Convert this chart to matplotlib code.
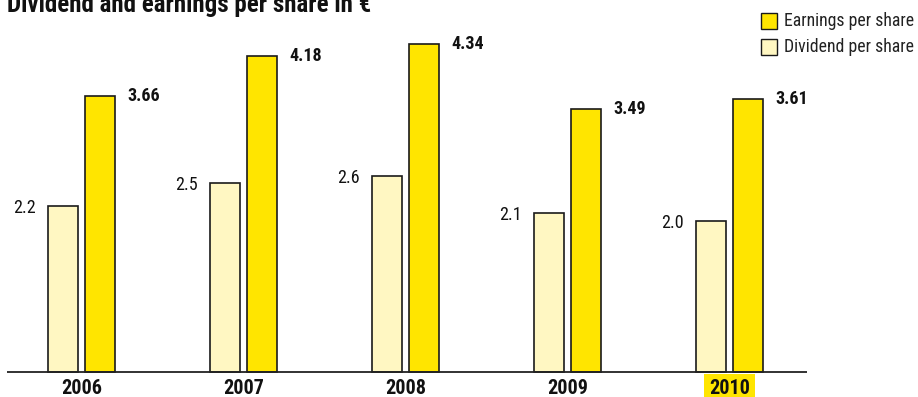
import matplotlib
matplotlib.use("Agg")
import matplotlib.pyplot as plt
from matplotlib.patches import Rectangle

plt.rcParams['font.family'] = ['Roboto Condensed', 'Liberation Sans Narrow',
                               'IBM Plex Sans Condensed', 'DejaVu Sans']

# Werte je Jahr
jahre = ['2006', '2007', '2008', '2009', '2010']
dividende = [2.2, 2.5, 2.6, 2.1, 2.0]
ergebnis = [3.66, 4.18, 4.34, 3.49, 3.61]
dividende_txt = ['2.2', '2.5', '2.6', '2.1', '2.0']
ergebnis_txt = ['3.66', '4.18', '4.34', '3.49', '3.61']

GELB = '#FFE500'
HELLGELB = '#FFF7C2'

W, H = 918, 397
fig = plt.figure(figsize=(W / 100, H / 100), dpi=100)
ax = fig.add_axes([0, 0, 1, 1])

# Pixelraster: Gruppenabstand 162 px, 75.5 px pro Euro, Nulllinie bei 372 px
ax.set_xlim(-81.5 / 162, (W - 81.5) / 162)
ax.set_ylim(-25 / 75.5, (H - 25) / 75.5)
ax.axis('off')

x = range(len(jahre))
breite = 0.185
versatz = 0.114

for i in x:
    ax.bar(i - versatz, dividende[i], breite, color=HELLGELB,
           edgecolor='#1a1a1a', linewidth=1.2, zorder=2)
    ax.bar(i + versatz, ergebnis[i], breite, color=GELB,
           edgecolor='#1a1a1a', linewidth=1.2, zorder=2)
    ax.annotate(dividende_txt[i], (i - versatz - breite / 2, dividende[i]),
                xytext=(-12, -2), textcoords='offset pixels',
                ha='right', va='center', fontsize=13, color='#111111')
    ax.annotate(ergebnis_txt[i], (i + versatz + breite / 2, ergebnis[i]),
                xytext=(12, 0), textcoords='offset pixels',
                ha='left', va='center', fontsize=13, fontweight='bold',
                color='#111111')
    box = None
    if jahre[i] == '2010':
        box = dict(boxstyle='square,pad=0.25', facecolor=GELB, edgecolor='none')
    ax.annotate(jahre[i], (i, 0), xytext=(0, -22), textcoords='offset pixels',
                ha='center', va='baseline', fontsize=14.5, fontweight='bold',
                color='#111111', bbox=box, zorder=1)

# Grundlinie
ax.hlines(0, -0.46, 4.478, color='#222222', linewidth=1.3, zorder=3)

# Titel
fig.text(7 / W, 1 - 12 / H, 'Dividend and earnings per share in €',
         fontsize=18, fontweight='bold', va='baseline', ha='left',
         color='#111111')

# Legende
for k, (farbe, text) in enumerate([(GELB, 'Earnings per share'),
                                    (HELLGELB, 'Dividend per share')]):
    oben = 13 + 26 * k
    fig.patches.append(Rectangle((761 / W, 1 - (oben + 16) / H), 16 / W, 16 / H,
                                 transform=fig.transFigure, facecolor=farbe,
                                 edgecolor='#1a1a1a', linewidth=1.0))
    fig.text(784 / W, 1 - (oben + 8) / H, text, fontsize=12.8,
             va='center', ha='left', color='#222222')

fig.savefig('out.png', dpi=100)
